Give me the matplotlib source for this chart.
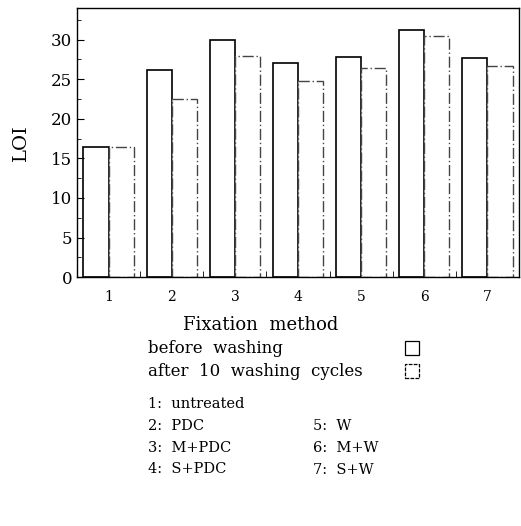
import numpy as np
import matplotlib
matplotlib.use("Agg")
import matplotlib.pyplot as plt
from matplotlib.patches import Rectangle

plt.rcParams['font.family'] = ['DejaVu Serif']

# Data
methods = ['1', '2', '3', '4', '5', '6', '7']
before = [16.5, 26.1, 29.9, 27.0, 27.8, 31.2, 27.7]
after = [16.5, 22.5, 27.9, 24.8, 26.4, 30.5, 26.7]
legend_labels = ['before  washing', 'after  10  washing  cycles']
key_left = ['1:  untreated', '2:  PDC', '3:  M+PDC', '4:  S+PDC']
key_right = ['5:  W', '6:  M+W', '7:  S+W']

fig = plt.figure(figsize=(5.21, 5.26), dpi=100)
ax = fig.add_axes([0.148, 0.473, 0.848, 0.512])

x = np.arange(1, len(methods) + 1)
w = 0.4
ax.bar(x - w / 2, before, w, facecolor='white', edgecolor='black', linewidth=1.2)
ax.bar(x + w / 2, after, w, facecolor='white', edgecolor='#444444', linewidth=1.0,
       linestyle=(0, (8, 2, 1, 2)))

ax.set_xlim(0.5, 7.5)
ax.set_ylim(0, 34)
ax.set_xticks(x)
ax.set_xticklabels(methods, fontsize=10)
ax.set_xticks(np.arange(1.5, 7.5, 1), minor=True)
ax.set_yticks(np.arange(0, 31, 5))
ax.set_yticks(np.arange(0, 34, 2.5), minor=True)
ax.tick_params(axis='y', direction='in', labelsize=12, length=5)
ax.tick_params(axis='y', which='minor', direction='in', length=3)
ax.tick_params(axis='x', which='major', length=0, labelsize=10, pad=9)
ax.tick_params(axis='x', which='minor', direction='in', length=4)
for s in ax.spines.values():
    s.set_linewidth(1.0)
ax.set_ylabel('LOI', fontsize=14, labelpad=15)

# Axis title and legend block below the plot
fig.text(0.5, 0.382, 'Fixation  method', fontsize=13, ha='center', va='center')
fig.text(0.284, 0.338, legend_labels[0], fontsize=12, va='center')
fig.text(0.284, 0.294, legend_labels[1], fontsize=12, va='center')
for yy, ls in [(0.338, '-'), (0.294, (0, (3, 1)))]:
    fig.add_artist(Rectangle((0.778, yy - 0.013), 0.027, 0.027, transform=fig.transFigure,
                             facecolor='white', edgecolor='black', linewidth=0.9,
                             linestyle=ls))

for i, t in enumerate(key_left):
    fig.text(0.284, 0.232 - i * 0.0415, t, fontsize=10.5, va='center')
for i, t in enumerate(key_right):
    fig.text(0.601, 0.190 - i * 0.0415, t, fontsize=10.5, va='center')

fig.savefig('out.png', dpi=100)
